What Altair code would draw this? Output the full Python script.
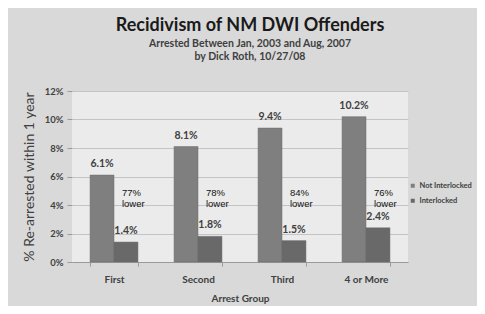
import altair as alt
import pandas as pd

categories = ["First", "Second", "Third", "4 or More"]
not_interlocked = [6.1, 8.1, 9.4, 10.2]
interlocked = [1.4, 1.8, 1.5, 2.4]
reductions = ["77%", "78%", "84%", "76%"]
series = ["Not Interlocked", "Interlocked"]
y_ticks = [0, 2, 4, 6, 8, 10, 12]

rows = []
for c, a, b in zip(categories, not_interlocked, interlocked):
    rows.append({"group": c, "series": series[0], "value": a, "label": f"{a:.1f}%"})
    rows.append({"group": c, "series": series[1], "value": b, "label": f"{b:.1f}%"})
df = pd.DataFrame(rows)

low = pd.DataFrame({
    "group": categories,
    "series": [series[1]] * 4,
    "value": [4.85] * 4,
    "txt": [r + "\nlower" for r in reductions],
})

x = alt.X("group:N", sort=categories, title="Arrest Group",
          scale=alt.Scale(paddingInner=0.43, paddingOuter=0.215),
          axis=alt.Axis(labelAngle=0, labelFont="Lato", labelFontWeight="bold",
                        labelFontSize=10, labelColor="#404040", labelPadding=8,
                        titleFont="Lato", titleFontWeight="bold", titleFontSize=10,
                        titleColor="#404040", titlePadding=9,
                        domainColor="#9a9a9a", tickColor="#9a9a9a", tickSize=4,
                        tickBand="extent", grid=False))
xo = alt.XOffset("series:N", sort=series)
y = alt.Y("value:Q", title="% Re-arrested within 1 year",
          scale=alt.Scale(domain=[0, 12], nice=False),
          axis=alt.Axis(values=y_ticks, labelExpr="datum.value + '%'",
                        labelOverlap=False, tickCount=7,
                        labelFont="Lato", labelFontWeight="bold", labelFontSize=9.5,
                        labelColor="#404040", labelPadding=4,
                        titleFont="Lato", titleFontSize=14, titleFontWeight="normal",
                        titleColor="#404040", titleX=-36, titleY=85.5,
                        domain=False, tickColor="#9a9a9a", tickSize=5,
                        gridColor="#c4c4c4"))

color = alt.Color("series:N", sort=series,
                  scale=alt.Scale(domain=series, range=["#7f7f7f", "#696969"]),
                  legend=alt.Legend(title=None, orient="none", legendX=337, legendY=91,
                                    symbolType="square", symbolSize=16, symbolStrokeWidth=0,
                                    labelFont="Lato", labelFontWeight="bold",
                                    labelFontSize=7.5, labelColor="#404040",
                                    rowPadding=6, labelOffset=3))

bars = alt.Chart(df).mark_bar(stroke="#6a6a6a", strokeWidth=0.5).encode(
    x=x, xOffset=xo, y=y, color=color)

vals = alt.Chart(df).mark_text(font="Lato", fontWeight="bold", fontSize=10.5,
                               fill="#404040", baseline="bottom", dy=-6).encode(
    x=x, xOffset=xo, y=y, text="label:N")

lows = alt.Chart(low).mark_text(font="Liberation Sans", fontSize=9.5, fill="#111111",
                                align="left", baseline="middle", lineBreak="\n",
                                dx=-4, lineHeight=11).encode(
    x=x, xOffset=xo, y=y, text="txt:N")

chart = alt.layer(bars, vals, lows).properties(
    width=336, height=171,
    autosize=alt.AutoSizeParams(type="none"),
    padding={"left": 64, "top": 83, "right": 69, "bottom": 44},
    title=alt.TitleParams(
        "Recidivism of NM DWI Offenders",
        subtitle=["Arrested Between Jan, 2003 and Aug, 2007", "by Dick Roth, 10/27/08"],
        font="Lato", fontSize=18, fontWeight="bold", color="#1a1a1a",
        subtitleFont="Lato", subtitleFontSize=10.5, subtitleFontWeight="bold",
        subtitleColor="#404040", subtitleLineHeight=13, subtitlePadding=4,
        anchor="middle", dx=10, offset=24),
).configure(background="#d9d9d9").configure_view(fill="#ebebeb", stroke=None)

chart.save("out.html", embed_options={"renderer": "svg", "actions": False})
